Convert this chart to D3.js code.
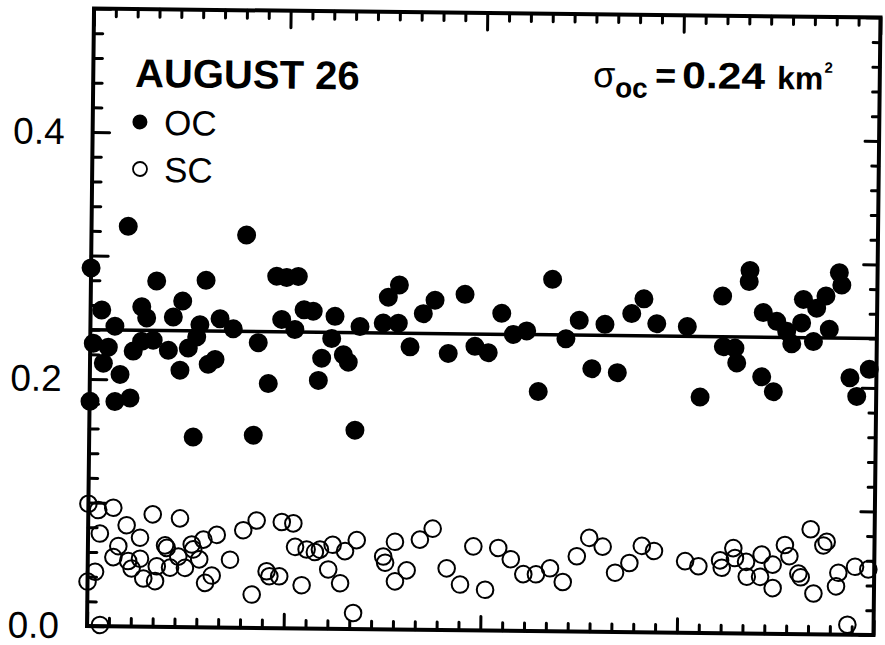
<!DOCTYPE html>
<html>
<head>
<meta charset="utf-8">
<script src="https://cdn.jsdelivr.net/npm/d3@7/dist/d3.min.js"></script>
<style>
  html, body { margin: 0; padding: 0; background: #fff; }
  svg { display: block; }
  text { font-family: "Liberation Sans", Arial, Helvetica, sans-serif; fill: #000; }
</style>
</head>
<body>
<svg id="chart" width="885" height="645"></svg>
<script>
// OC samples (filled) — position along the track and cross-section, km^2
const ocX = [0, 0.14, 0.02, 0.51, 0.61, 0.83, 1.12, 1.16, 1.38, 1.68, 1.85, 1.97, 2.34, 2.35, 2.57, 2.88,
  3.01, 3.58, 3.79, 4.12, 4.21, 4.49, 4.76, 4.87, 5.01, 5.27, 5.41, 5.72, 5.93, 6.54, 7.10, 7.51,
  7.69, 8.17, 8.50, 8.75, 8.96, 9.36, 9.49, 9.77, 10.19, 10.46, 10.60, 11.05, 11.19, 11.59, 11.82, 12.16,
  12.34, 13.40, 13.62, 14.09, 14.12, 14.64, 15.23, 15.76, 16.39, 17.13, 17.61, 18.22, 18.82, 19.36, 19.97, 20.53,
  21.13, 21.77, 22.37, 22.97, 23.55, 24.14, 24.77, 25.32, 25.92, 27.32, 27.94, 28.92, 28.98, 29.51, 29.60, 30.13,
  30.16, 30.75, 30.79, 31.29, 31.41, 31.87, 32.11, 32.55, 32.62, 33.10, 33.23, 33.65, 33.82, 34.25, 34.37, 34.79,
  35.11, 35.67];
const ocY = [0.290, 0.229, 0.182, 0.256, 0.213, 0.226, 0.243, 0.182, 0.204, 0.324, 0.185, 0.223, 0.259, 0.231, 0.250, 0.232,
  0.280, 0.224, 0.251, 0.208, 0.264, 0.226, 0.154, 0.235, 0.245, 0.281, 0.213, 0.217, 0.250, 0.242, 0.318, 0.156,
  0.231, 0.198, 0.285, 0.250, 0.284, 0.242, 0.285, 0.258, 0.257, 0.201, 0.219, 0.235, 0.253, 0.222, 0.216, 0.161,
  0.245, 0.248, 0.269, 0.248, 0.279, 0.229, 0.256, 0.267, 0.224, 0.272, 0.230, 0.225, 0.257, 0.240, 0.243, 0.194,
  0.285, 0.237, 0.252, 0.213, 0.249, 0.210, 0.258, 0.270, 0.250, 0.248, 0.191, 0.273, 0.232, 0.231, 0.219, 0.285,
  0.294, 0.208, 0.260, 0.196, 0.253, 0.245, 0.235, 0.252, 0.271, 0.237, 0.264, 0.274, 0.247, 0.293, 0.283, 0.208,
  0.193, 0.215];

// SC samples (open)
const scX = [0, 0.45, 1.14, 0.54, 1.76, 2.95, 4.20, 2.38, 1.39, 1.17, 1.85, 2.39, 2.01, 0.34, 0, 2.55,
  3.09, 3.16, 3.53, 3.61, 3.77, 4.14, 4.45, 4.75, 4.82, 5.10, 5.28, 5.89, 5.38, 5.68, 6.51, 7.10,
  7.71, 7.52, 8.19, 8.32, 8.77, 8.86, 9.39, 9.48, 10.01, 10.39, 10.62, 11.20, 11.77, 12.30, 11.01, 11.56,
  9.80, 12.17, 0.59, 13.52, 13.61, 14.05, 14.07, 14.60, 15.19, 15.77, 16.43, 17.05, 17.64, 18.20, 18.78, 19.36,
  19.94, 20.52, 21.16, 21.75, 22.38, 22.94, 23.56, 24.14, 24.79, 25.35, 25.91, 27.34, 27.95, 28.94, 29.02, 29.54,
  29.62, 30.13, 30.17, 30.78, 30.84, 31.35, 31.36, 31.90, 32.11, 32.53, 32.64, 33.23, 33.07, 33.66, 33.81, 34.36,
  34.26, 35.12, 35.73, 34.80];
const scY = [0.099, 0.094, 0.096, 0.075, 0.082, 0.091, 0.088, 0.072, 0.065, 0.056, 0.053, 0.055, 0.047, 0.044, 0.036, 0.039,
  0.037, 0.049, 0.066, 0.064, 0.048, 0.057, 0.048, 0.067, 0.063, 0.055, 0.071, 0.075, 0.036, 0.042, 0.055, 0.079,
  0.087, 0.027, 0.046, 0.042, 0.042, 0.086, 0.085, 0.066, 0.064, 0.062, 0.064, 0.068, 0.063, 0.072, 0.048, 0.037,
  0.035, 0.013, 0.001, 0.059, 0.054, 0.071, 0.039, 0.048, 0.073, 0.082, 0.050, 0.037, 0.068, 0.033, 0.067, 0.058,
  0.046, 0.046, 0.051, 0.040, 0.061, 0.076, 0.069, 0.048, 0.056, 0.070, 0.066, 0.058, 0.054, 0.059, 0.053, 0.069,
  0.061, 0.058, 0.046, 0.046, 0.064, 0.056, 0.037, 0.072, 0.063, 0.049, 0.046, 0.033, 0.085, 0.072, 0.075, 0.050,
  0.039, 0.055, 0.053, 0.008];

const sigmaOC = 0.24;             // mean OC cross-section, drawn as the horizontal line
const yLabelTicks = [0.0, 0.2, 0.4];
const titleText = "AUGUST 26";
const legendNames = ["OC", "SC"];

const svg = d3.select("#chart");
const margin = { left: 90.5, top: 13 };
const W = 786.5, H = 617.5;

// the whole figure sits slightly tilted on the page
const root = svg.append("g").attr("transform", "rotate(0.65, 484, 322)");
const g = root.append("g").attr("transform", `translate(${margin.left},${margin.top})`);

const x = d3.scaleLinear().domain([0, 36]).range([0, W]);
const y = d3.scaleLinear().domain([0, 0.5]).range([H, 0]);

const yAll = d3.range(0, 26).map(i => +(i * 0.02).toFixed(2));
const yMajor = yAll.filter((d, i) => i % 5 === 0);
const yMinor = yAll.filter((d, i) => i % 5 !== 0);
const xAll = d3.range(0, 37);
const xMajor = xAll.filter(d => d % 9 === 0);
const xMinor = xAll.filter(d => d % 9 !== 0);

function tickGroup(axis, tx, ty) {
  const a = g.append("g").attr("transform", `translate(${tx},${ty})`).call(axis);
  a.select(".domain").remove();
  a.selectAll(".tick line").attr("stroke", "#000").attr("stroke-width", 3).attr("stroke-linecap", "round");
  a.selectAll(".tick text").remove();
  return a;
}

// inward ticks on all four sides
tickGroup(d3.axisLeft(y).tickValues(yMinor).tickSize(-9), 0, 0);
tickGroup(d3.axisLeft(y).tickValues(yMajor).tickSize(-17), 0, 0);
tickGroup(d3.axisRight(y).tickValues(yMinor).tickSize(-7), W, 0);
tickGroup(d3.axisRight(y).tickValues(yMajor).tickSize(-14), W, 0);
tickGroup(d3.axisTop(x).tickValues(xMinor).tickSize(-8), 0, 0);
tickGroup(d3.axisTop(x).tickValues(xMajor).tickSize(-17), 0, 0);
tickGroup(d3.axisBottom(x).tickValues(xMinor).tickSize(-8), 0, H);
tickGroup(d3.axisBottom(x).tickValues(xMajor).tickSize(-14), 0, H);

// y labels
const yl = g.append("g").call(
  d3.axisLeft(y).tickValues(yLabelTicks).tickSize(0).tickPadding(28).tickFormat(d3.format(".1f"))
);
yl.select(".domain").remove();
yl.selectAll(".tick text")
  .attr("font-family", '"Liberation Sans", Arial, sans-serif')
  .attr("font-size", 37)
  .attr("fill", "#000");

// frame
g.append("rect")
  .attr("x", 0).attr("y", 0).attr("width", W).attr("height", H)
  .attr("fill", "none").attr("stroke", "#000").attr("stroke-width", 4);

// mean line
g.append("line")
  .attr("x1", x(0)).attr("x2", x(36))
  .attr("y1", y(sigmaOC)).attr("y2", y(sigmaOC))
  .attr("stroke", "#000").attr("stroke-width", 3.5);

// SC open circles
g.append("g").selectAll("circle")
  .data(scX.map((d, i) => [d, scY[i]]))
  .join("circle")
  .attr("cx", d => x(d[0])).attr("cy", d => y(d[1]))
  .attr("r", 8.3)
  .attr("fill", "none").attr("stroke", "#000").attr("stroke-width", 2);

// OC filled circles
g.append("g").selectAll("circle")
  .data(ocX.map((d, i) => [d, ocY[i]]))
  .join("circle")
  .attr("cx", d => x(d[0])).attr("cy", d => y(d[1]))
  .attr("r", 9.5)
  .attr("fill", "#000");

// title
root.append("text")
  .attr("x", 132.3).attr("y", 90.9)
  .attr("font-size", 40).attr("font-weight", "bold")
  .text(titleText);

// legend
root.append("circle").attr("cx", 137.7).attr("cy", 125.9).attr("r", 7.5).attr("fill", "#000");
root.append("text").attr("x", 161.9).attr("y", 138.6).attr("font-size", 35).text(legendNames[0]);
root.append("circle").attr("cx", 138.3).attr("cy", 172.9).attr("r", 7)
  .attr("fill", "none").attr("stroke", "#000").attr("stroke-width", 1.8);
root.append("text").attr("x", 162.4).attr("y", 185.6).attr("font-size", 35).text(legendNames[1]);

// sigma annotation
const sBase = 85.8;
root.append("text").attr("x", 590.4).attr("y", sBase).attr("font-size", 36).text("σ");
root.append("text").attr("x", 612.4).attr("y", sBase + 10).attr("font-size", 28).attr("font-weight", "bold").text("oc");
root.append("text").attr("x", 652.4).attr("y", sBase).attr("font-size", 36).attr("font-weight", "bold").text("=");
root.append("text").attr("x", 679.4).attr("y", sBase).attr("font-size", 37).attr("font-weight", "bold")
  .attr("textLength", 83).attr("lengthAdjust", "spacingAndGlyphs").text(d3.format(".2f")(sigmaOC));
// unit with its superscript in one text run
const unit = root.append("text").attr("x", 774.4).attr("y", sBase).attr("font-weight", "bold");
unit.append("tspan").attr("font-size", 32).text("km");
unit.append("tspan").attr("font-size", 15).attr("dx", 1).attr("dy", -17).text("2");
</script>
</body>
</html>
